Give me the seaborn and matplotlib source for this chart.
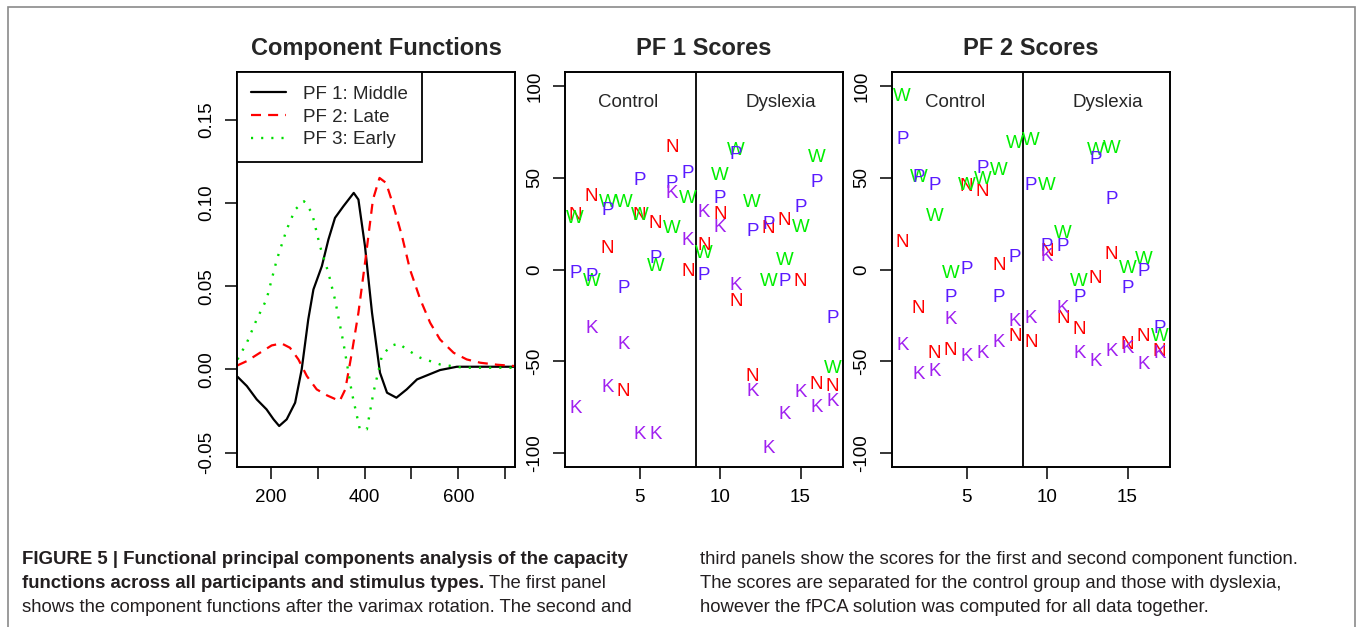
import matplotlib
matplotlib.use('Agg')
import matplotlib.pyplot as plt
from matplotlib.patches import Rectangle
import seaborn as sns

# component functions
pf1_t = [129, 149, 170, 191, 206, 218, 234, 252, 266, 280, 291, 309, 323, 337, 355, 377, 387,
         401, 416, 433, 448, 468, 490, 512, 533, 561, 597, 647, 721]
pf1_y = [-0.0044, -0.010, -0.018, -0.024, -0.030, -0.034, -0.030, -0.020, 0.0, 0.030, 0.048,
         0.062, 0.078, 0.091, 0.098, 0.106, 0.102, 0.074, 0.034, -0.002, -0.014, -0.017, -0.012,
         -0.006, -0.0036, -0.0004, 0.0016, 0.0016, 0.0016]
pf2_t = [129, 149, 177, 202, 223, 241, 259, 277, 298, 320, 347, 359, 373, 387, 402, 418, 432,
         446, 462, 480, 497, 519, 540, 561, 590, 618, 647, 683, 721]
pf2_y = [0.0024, 0.005, 0.010, 0.0144, 0.0156, 0.013, 0.006, -0.004, -0.012, -0.0156, -0.019,
         -0.012, 0.010, 0.034, 0.066, 0.102, 0.115, 0.112, 0.098, 0.080, 0.060, 0.042, 0.028,
         0.018, 0.010, 0.006, 0.004, 0.0028, 0.002]
pf3_t = [129, 149, 170, 191, 213, 234, 252, 271, 288, 305, 323, 337, 355, 373, 390, 405, 419,
         437, 455, 473, 490, 519, 561, 611, 721]
pf3_y = [0.006, 0.016, 0.030, 0.042, 0.066, 0.084, 0.096, 0.101, 0.094, 0.074, 0.058, 0.042,
         0.016, -0.014, -0.036, -0.036, -0.014, 0.008, 0.014, 0.0156, 0.012, 0.007, 0.003,
         0.001, 0.001]
curve_labels = ['PF 1: Middle', 'PF 2: Late', 'PF 3: Early']

# scores per participant (1-8 control, 9-17 dyslexia)
subjects = list(range(1, 18))
pf1_N = [29.5, 39.9, 11.4, -66.5, 29.5, 25, 66.7, -1.3, 13.2, 30, -17.6, -58.3, 22.3, 26.8, -6.7, -62.9, -63.8]
pf1_W = [27.7, -6.7, 36.8, 36.8, 29.5, 1.4, 22.3, 38.6, 8.7, 51.3, 64.9, 36.8, -6.7, 5, 23.2, 61.2, -53.8]
pf1_P = [-2.2, -4, 32.2, -10.3, 48.6, 6, 46.7, 52.2, -3.1, 38.6, 62.7, 20.5, 24.6, -6.7, 34, 47.6, -26.6]
pf1_K = [-76, -32, -64.7, -41, -90, -90, 41.3, 16, 31.3, 23.2, -8.5, -66.5, -98, -79.2, -67.4, -75.5, -71.9]

pf2_N = [15, -21.2, -45.7, -44.2, 45.3, 42.8, 2.4, -36.6, -39.9, 10.1, -26.6, -33, -4.9, 8.3, -41.1, -36.6, -44.7]
pf2_W = [94.7, 50.4, 29, -2.2, 45.8, 48.9, 54, 68.8, 70.3, 45.8, 19.6, -6.7, 64.9, 65.8, 0.5, 5.4, -36.6]
pf2_P = [71.2, 50.4, 45.8, -15.2, 0, 54.9, -15.2, 6.5, 45.8, 12.3, 12.3, -15.2, 60.3, 38, -10.3, -1.3, -32]
pf2_K = [-41.7, -57.4, -55.6, -27.2, -47.5, -45.7, -39.9, -28.4, -26.6, 7.2, -21.2, -45.7, -50.2, -44.7, -42.9, -52, -45.7]

letter_colors = {'N': '#ff0000', 'W': '#00ee00', 'P': '#5a1bff', 'K': '#a020f0'}

sns.set_style('ticks')
plt.rcParams['font.family'] = ['Liberation Sans', 'DejaVu Sans']
plt.rcParams['xtick.major.size'] = 8.6
plt.rcParams['ytick.major.size'] = 8.6
plt.rcParams['xtick.major.width'] = 1.1
plt.rcParams['ytick.major.width'] = 1.1
plt.rcParams['xtick.major.pad'] = 7
plt.rcParams['ytick.major.pad'] = 7
plt.rcParams['xtick.color'] = 'black'
plt.rcParams['ytick.color'] = 'black'

W, H = 1357, 627
fig = plt.figure(figsize=(W / 100, H / 100), dpi=100)


def box(left, right, top=71.7, bottom=467.3):
    return [left / W, 1 - bottom / H, (right - left) / W, (bottom - top) / H]


fs = 13.5

# panel 1
ax1 = fig.add_axes(box(237, 515))
sns.lineplot(x=pf1_t, y=pf1_y, ax=ax1, color='black', lw=1.6, sort=False, estimator=None,
             label=curve_labels[0])
sns.lineplot(x=pf2_t, y=pf2_y, ax=ax1, color='#ff0000', lw=1.6, sort=False, estimator=None,
             linestyle=(0, (4.5, 3.2)), label=curve_labels[1])
sns.lineplot(x=pf3_t, y=pf3_y, ax=ax1, color='#00dd00', lw=1.7, sort=False, estimator=None,
             linestyle=(0, (0.9, 3.4)), label=curve_labels[2])
ax1.set_xlim(128, 721)
ax1.set_ylim(-0.0588, 0.1788)
ax1.set_xticks([200, 300, 400, 500, 600, 700])
ax1.set_xticklabels(['200', '', '400', '', '600', ''])
ax1.set_yticks([-0.05, 0.0, 0.05, 0.10, 0.15])
ax1.set_yticklabels(['-0.05', '0.00', '0.05', '0.10', '0.15'], rotation=90, va='center')
ax1.set_title('Component Functions', fontsize=17, fontweight='bold', pad=12)
leg = ax1.legend(loc='upper left', bbox_to_anchor=(0, 1), borderaxespad=0, fontsize=fs,
                 frameon=True, fancybox=False, edgecolor='black', handlelength=1.87,
                 handletextpad=0.9, borderpad=0.75, labelspacing=0.3)
leg.get_frame().set_linewidth(1.3)
leg.get_frame().set_alpha(1)


def score_panel(ax, N, Wv, P, K, title):
    for letter, vals in (('N', N), ('W', Wv), ('P', P), ('K', K)):
        for s, v in zip(subjects, vals):
            ax.text(s, v, letter, color=letter_colors[letter], fontsize=fs,
                    ha='center', va='center')
    ax.axvline(8.5, color='black', lw=1.3)
    ax.text(4.3, 91, 'Control', fontsize=fs, ha='center', va='center')
    ax.text(13.75, 91, 'Dyslexia', fontsize=fs, ha='center', va='center')
    ax.set_xlim(0.36, 17.64)
    ax.set_ylim(-108, 108)
    ax.set_xticks([5, 10, 15])
    ax.set_yticks([-100, -50, 0, 50, 100])
    ax.set_yticklabels(['-100', '-50', '0', '50', '100'], rotation=90, va='center')
    ax.set_title(title, fontsize=17, fontweight='bold', pad=12)


ax2 = fig.add_axes(box(565, 843))
score_panel(ax2, pf1_N, pf1_W, pf1_P, pf1_K, 'PF 1 Scores')
ax3 = fig.add_axes(box(892, 1170))
score_panel(ax3, pf2_N, pf2_W, pf2_P, pf2_K, 'PF 2 Scores')

for ax in (ax1, ax2, ax3):
    ax.tick_params(labelsize=fs)
    for sp in ax.spines.values():
        sp.set_visible(True)
        sp.set_linewidth(1.4)
        sp.set_color('black')

# outer frame of the figure
fig.add_artist(Rectangle((8 / W, -0.05), (1355 - 8) / W, 1.05 - 7.5 / H, transform=fig.transFigure,
                         fill=False, edgecolor='#8a8a8a', lw=1.2))

# caption
cap_col = '#231f20'
cap_fs = 13.3
renderer = fig.canvas.get_renderer()


def cap(xpx, ypx, s, bold=False):
    t = fig.text(xpx / W, 1 - ypx / H, s, fontsize=cap_fs + (0.1 if bold else 0), color=cap_col,
                 ha='left', va='center', fontweight='bold' if bold else 'normal')
    return t.get_window_extent(renderer).width


cap(22, 559, 'FIGURE 5 | Functional principal components analysis of the capacity', bold=True)
wb = cap(22, 583, 'functions across all participants and stimulus types.', bold=True)
cap(22 + wb + 5, 583, 'The first panel')
cap(22, 607, 'shows the component functions after the varimax rotation. The second and')
cap(700, 559, 'third panels show the scores for the first and second component function.')
cap(700, 583, 'The scores are separated for the control group and those with dyslexia,')
cap(700, 607, 'however the fPCA solution was computed for all data together.')

fig.savefig('out.png', dpi=100)
